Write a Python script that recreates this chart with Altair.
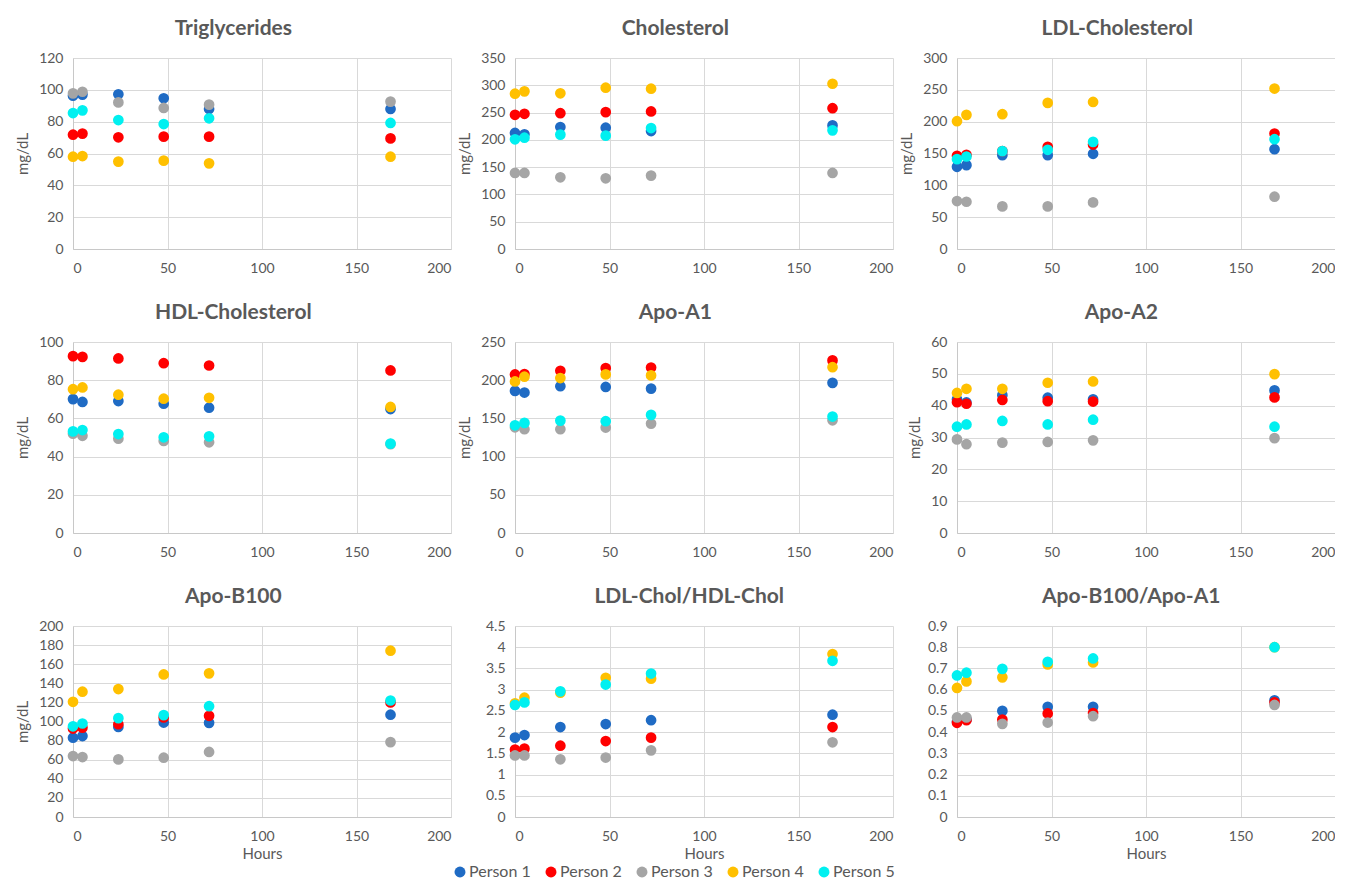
import altair as alt
import pandas as pd

FONT = "Lato"
GREY = "#595959"

hours = [0, 5, 24, 48, 72, 168]
persons = ["Person 1", "Person 2", "Person 3", "Person 4", "Person 5"]
colors = ["#1F6BC4", "#FF0000", "#A5A5A5", "#FFC000", "#00F0F0"]

# values per person (Person 1..5), one per hour
triglycerides = [
    [96.3, 97.0, 97.2, 94.7, 88.0, 88.0],
    [71.8, 72.5, 70.2, 70.6, 70.6, 69.5],
    [97.8, 98.8, 92.1, 88.6, 90.7, 92.6],
    [58.0, 58.4, 54.9, 55.5, 53.8, 58.0],
    [85.4, 87.1, 81.0, 78.5, 82.1, 79.2],
]
cholesterol = [
    [212.6, 210.2, 223.5, 222.3, 216.2, 226.5],
    [245.9, 247.7, 248.9, 250.8, 252.0, 258.0],
    [139.3, 139.3, 131.4, 129.6, 134.5, 139.3],
    [284.6, 288.9, 285.3, 295.6, 293.8, 302.8],
    [201.0, 204.0, 209.6, 207.7, 221.7, 217.4],
]
ldl = [
    [129.1, 131.7, 147.4, 147.4, 149.5, 156.8],
    [146.4, 148.0, 153.7, 160.5, 164.1, 181.4],
    [75.3, 74.2, 66.9, 66.9, 73.2, 82.1],
    [200.7, 210.7, 211.7, 229.5, 231.0, 252.0],
    [141.1, 145.3, 153.7, 155.8, 168.3, 172.5],
]
hdl = [
    [70.1, 68.6, 69.1, 67.7, 65.6, 64.9],
    [92.6, 92.2, 91.4, 88.9, 87.7, 85.1],
    [52.0, 50.9, 49.4, 48.2, 47.5, 46.5],
    [75.3, 76.2, 72.4, 70.3, 70.8, 66.0],
    [53.2, 53.9, 51.8, 50.1, 50.6, 46.8],
]
apoa1 = [
    [186.0, 183.8, 192.1, 191.2, 189.0, 196.5],
    [207.5, 208.0, 212.3, 215.8, 216.6, 225.9],
    [138.4, 135.8, 135.8, 138.0, 143.2, 147.5],
    [198.4, 204.6, 202.8, 207.6, 206.3, 217.0],
    [141.0, 144.1, 147.1, 146.3, 154.6, 152.4],
]
apoa2 = [
    [42.0, 41.0, 43.3, 42.5, 42.0, 44.8],
    [41.1, 40.6, 41.8, 41.4, 41.3, 42.6],
    [29.4, 27.9, 28.4, 28.6, 29.1, 29.8],
    [44.0, 45.3, 45.3, 47.2, 47.6, 49.9],
    [33.4, 34.1, 35.2, 34.1, 35.6, 33.4],
]
apob100 = [
    [83.0, 84.8, 94.3, 98.9, 98.6, 107.1],
    [92.6, 93.6, 97.2, 104.3, 106.0, 120.0],
    [63.8, 62.8, 60.3, 62.1, 68.1, 78.4],
    [120.6, 131.2, 134.0, 149.3, 150.4, 174.1],
    [95.0, 97.9, 103.5, 106.7, 116.0, 122.0],
]
ldl_hdl = [
    [1.87, 1.93, 2.12, 2.19, 2.28, 2.41],
    [1.59, 1.61, 1.68, 1.79, 1.87, 2.12],
    [1.45, 1.45, 1.36, 1.40, 1.57, 1.76],
    [2.68, 2.81, 2.93, 3.28, 3.26, 3.84],
    [2.64, 2.70, 2.96, 3.12, 3.38, 3.68],
]
apob_apoa1 = [
    [0.45, 0.46, 0.50, 0.519, 0.519, 0.55],
    [0.444, 0.456, 0.459, 0.488, 0.49, 0.54],
    [0.469, 0.469, 0.439, 0.445, 0.475, 0.528],
    [0.608, 0.639, 0.658, 0.719, 0.728, 0.80],
    [0.667, 0.68, 0.698, 0.731, 0.747, 0.80],
]

panels = [
    ("Triglycerides", triglycerides, [0, 20, 40, 60, 80, 100, 120], "mg/dL", False),
    ("Cholesterol", cholesterol, [0, 50, 100, 150, 200, 250, 300, 350], "mg/dL", False),
    ("LDL-Cholesterol", ldl, [0, 50, 100, 150, 200, 250, 300], "mg/dL", False),
    ("HDL-Cholesterol", hdl, [0, 20, 40, 60, 80, 100], "mg/dL", False),
    ("Apo-A1", apoa1, [0, 50, 100, 150, 200, 250], "mg/dL", False),
    ("Apo-A2", apoa2, [0, 10, 20, 30, 40, 50, 60], "mg/dL", False),
    ("Apo-B100", apob100, [0, 20, 40, 60, 80, 100, 120, 140, 160, 180, 200], "mg/dL", True),
    ("LDL-Chol/HDL-Chol", ldl_hdl, [0, 0.5, 1, 1.5, 2, 2.5, 3, 3.5, 4, 4.5], None, True),
    ("Apo-B100/Apo-A1", apob_apoa1, [0, 0.1, 0.2, 0.3, 0.4, 0.5, 0.6, 0.7, 0.8, 0.9], None, True),
]
x_ticks = [0, 50, 100, 150, 200]

W, H = 378, 191
color_scale = alt.Scale(domain=persons, range=colors)

charts = []
for name, series, yticks, ytitle, show_x in panels:
    rows = []
    for p, vals in zip(persons, series):
        for h, v in zip(hours, vals):
            rows.append({"Hours": h, "value": v, "person": p})
    df = pd.DataFrame(rows)
    ch = alt.Chart(df).mark_circle(size=115, opacity=1).encode(
        x=alt.X("Hours:Q", scale=alt.Scale(domain=[0, 200], nice=False),
                axis=alt.Axis(values=x_ticks, title="Hours" if show_x else None)),
        y=alt.Y("value:Q", scale=alt.Scale(domain=[yticks[0], yticks[-1]], nice=False),
                axis=alt.Axis(values=yticks, title=ytitle, format=".1~f")),
        color=alt.Color("person:N", scale=color_scale, legend=None),
        order=alt.Order("person:N"),
    ).properties(
        width=W, height=H,
        title=alt.TitleParams(name, fontSize=21, fontWeight="bold", color=GREY, font=FONT,
                              offset=12, anchor="middle", frame="bounds"),
    )
    charts.append(ch)

grid = alt.concat(*charts, columns=3, spacing={"row": 27, "column": 6})

# legend row
leg_df = pd.DataFrame({"person": persons, "idx": list(range(len(persons)))})
LW = 488
leg_x = alt.X("idx:Q", axis=None, scale=alt.Scale(domain=[0, LW / 91.0], nice=False, zero=False))
leg_base = alt.Chart(leg_df).encode(x=leg_x, y=alt.value(8))
leg_dots = leg_base.mark_circle(size=120, opacity=1).encode(
    color=alt.Color("person:N", scale=color_scale, legend=None))
leg_text = leg_base.mark_text(align="left", baseline="middle", dx=9, fontSize=16,
                              font=FONT, color=GREY).encode(text="person:N")
legend_chart = alt.layer(leg_dots, leg_text).properties(width=LW, height=16)

chart = alt.vconcat(grid, legend_chart, spacing=3, center=True).properties(
    padding={"left": 7, "top": 10, "right": 0, "bottom": 0}
).configure_view(
    stroke=None
).configure_axis(
    grid=True, gridColor="#D9D9D9", gridWidth=1, domain=True, domainColor="#C8C8C8", ticks=False,
    labelFont=FONT, labelFontSize=14, labelColor=GREY,
    titleFont=FONT, titleFontSize=15, titleColor=GREY, titleFontWeight="normal",
).configure_axisX(
    labelPadding=12, titlePadding=3,
).configure_axisY(
    labelPadding=10, titlePadding=8,
)

chart.save("out.html", embed_options={"renderer": "svg", "actions": False})
